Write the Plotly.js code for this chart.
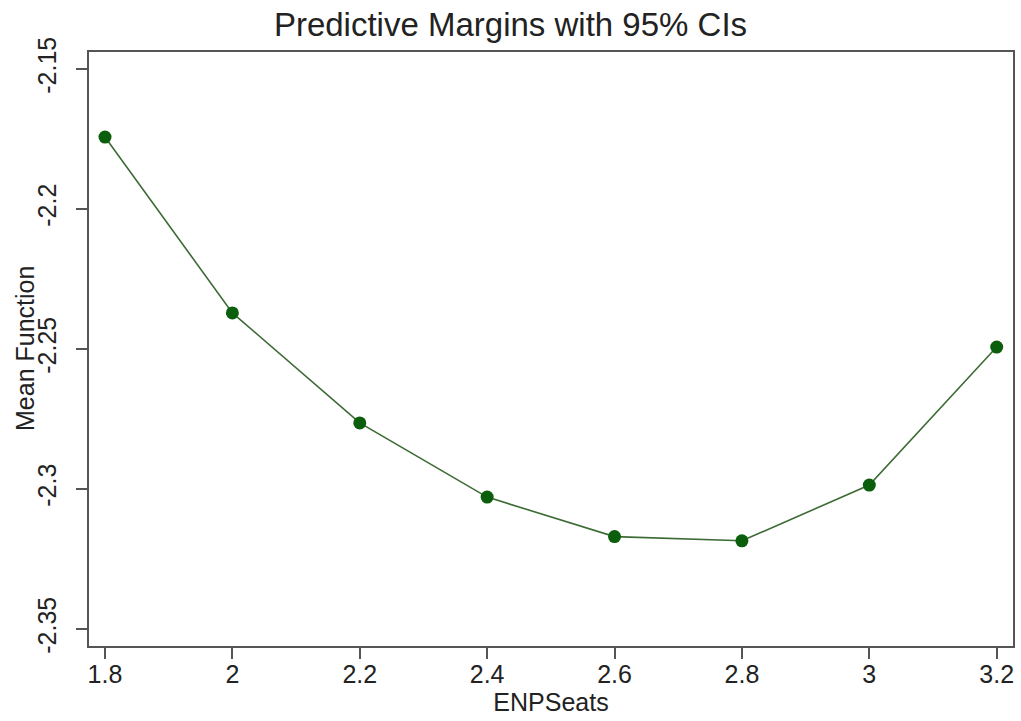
<!DOCTYPE html>
<html>
<head>
<meta charset="utf-8">
<script src="https://cdn.plot.ly/plotly-3.0.1.min.js"></script>
<style>html,body{margin:0;padding:0;background:#fff;}#chart{width:1021px;height:721px;}</style>
</head>
<body>
<div id="chart"></div>
<script>
const enpSeats = [1.8, 2.0, 2.2, 2.4, 2.6, 2.8, 3.0, 3.2];
const meanFunction = [-2.1743, -2.2371, -2.2764, -2.3029, -2.3170, -2.3185, -2.2986, -2.2493];
const xTicks = [1.8, 2, 2.2, 2.4, 2.6, 2.8, 3, 3.2];
const xTickLabels = ["1.8", "2", "2.2", "2.4", "2.6", "2.8", "3", "3.2"];
const yTicks = [-2.35, -2.3, -2.25, -2.2, -2.15];
const yTickLabels = ["-2.35", "-2.3", "-2.25", "-2.2", "-2.15"];
const yTitle = 'Mean Function';

const trace = {
  x: enpSeats,
  y: meanFunction,
  type: 'scatter',
  mode: 'lines+markers',
  line: {color: '#3d6b35', width: 1.6},
  marker: {color: '#0b5e0b', size: 13},
  showlegend: false,
  hoverinfo: 'x+y'
};

const layout = {
  width: 1021,
  height: 721,
  paper_bgcolor: '#ffffff',
  plot_bgcolor: '#ffffff',
  margin: {l: 89, r: 8, t: 52, b: 75},
  font: {family: 'Liberation Sans, Arial, sans-serif', color: '#222'},
  title: {text: 'Predictive Margins with 95% CIs', x: 0.5, xanchor: 'center', y: 0.966, yanchor: 'middle', font: {size: 33, color: '#222'}},
  xaxis: {
    range: [1.7749, 3.2256],
    tickvals: xTicks,
    ticktext: xTickLabels,
    ticks: 'outside',
    ticklen: 11,
    tickwidth: 2,
    tickcolor: '#555',
    ticklabelstandoff: -6,
    showgrid: false,
    zeroline: false,
    showline: true,
    linecolor: '#555',
    linewidth: 2,
    mirror: true,
    tickfont: {size: 25, color: '#222'},
    title: {text: 'ENPSeats', font: {size: 25, color: '#222'}, standoff: 4}
  },
  yaxis: {
    range: [-2.35607, -2.14393],
    tickvals: yTicks,
    ticktext: yTickLabels,
    tickangle: -90,
    ticks: 'outside',
    ticklen: 11,
    tickwidth: 2,
    tickcolor: '#555',
    ticklabelstandoff: 10,
    showgrid: false,
    zeroline: false,
    showline: true,
    linecolor: '#555',
    linewidth: 2,
    mirror: true,
    tickfont: {size: 25, color: '#222'}
  },
  annotations: [{
    text: yTitle,
    xref: 'paper', yref: 'paper',
    x: -64 / 924, y: 0.5,
    xanchor: 'center', yanchor: 'middle',
    textangle: -90,
    showarrow: false,
    font: {size: 25, color: '#222'}
  }]
};

Plotly.newPlot('chart', [trace], layout, {displayModeBar: false, staticPlot: true});
</script>
</body>
</html>
